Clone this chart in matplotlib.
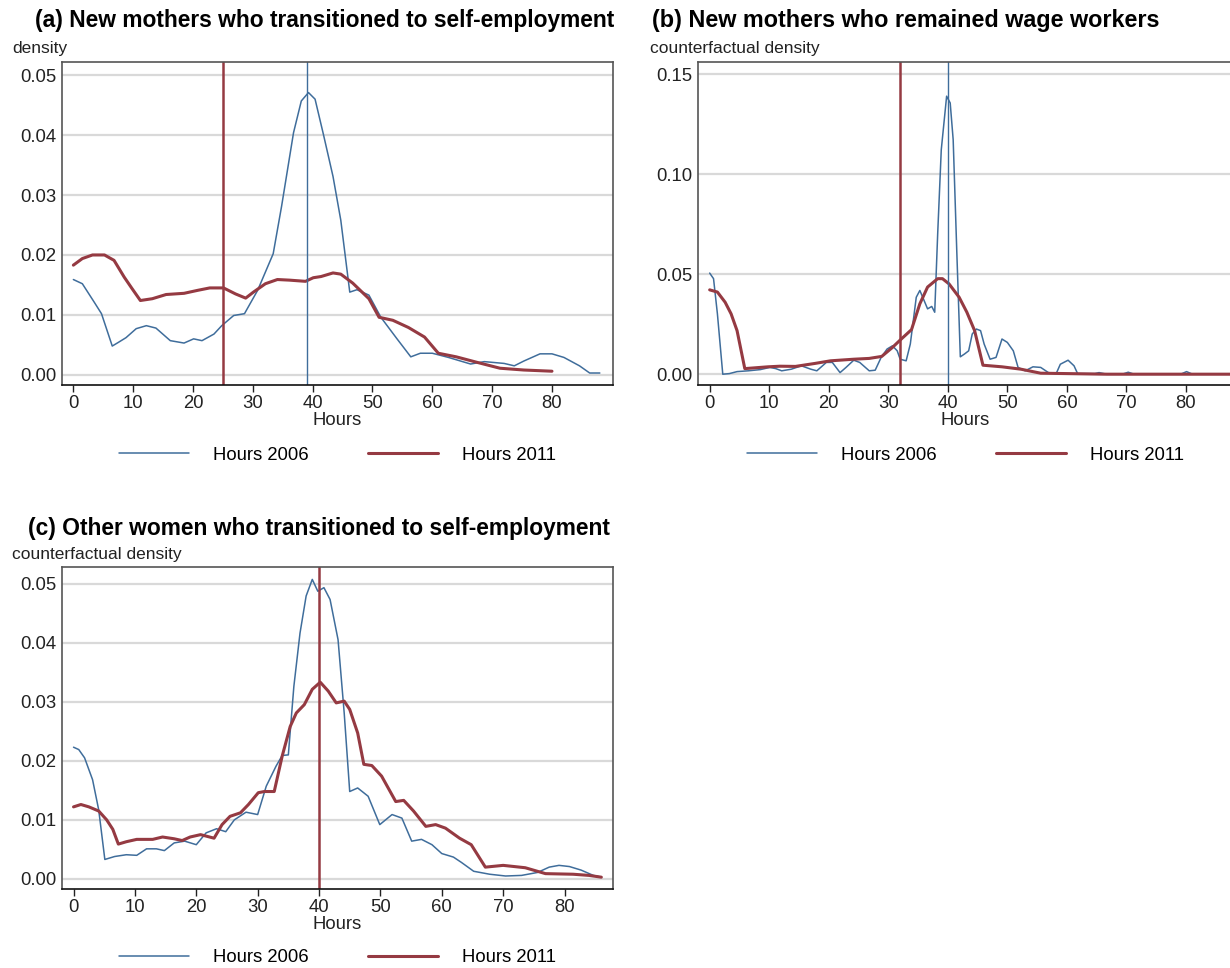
import matplotlib

matplotlib.use("Agg")
import matplotlib.pyplot as plt

plt.rcParams["font.family"] = ["Liberation Sans", "DejaVu Sans"]

BLUE = "#3f6d9b"
RED = "#953a42"
GRID = "#d9d9d9"

# (a) New mothers who transitioned to self-employment
a_hours_2006 = [0, 1.5, 3.5, 4.7, 6.5, 7.5, 8.8, 10.5, 12.2, 13.8, 16.2, 18.5, 20.1, 21.5,
                23.5, 24.8, 26.8, 28.6, 30.8, 33.4, 34.8, 36.8, 38.1, 39.3, 40.4, 41.8,
                43.4, 44.7, 46.2, 47.4, 49.4, 51.4, 54.1, 56.4, 58.0, 60.0, 62.7, 66.4,
                68.7, 72.0, 73.7, 75.3, 78.0, 80.0, 82.0, 84.6, 86.3, 88.0]
a_dens_2006 = [0.0159, 0.0152, 0.0121, 0.0102, 0.0048, 0.0054, 0.0062, 0.0077, 0.0082,
               0.0078, 0.0057, 0.0053, 0.0060, 0.0057, 0.0068, 0.0082, 0.0099, 0.0102,
               0.0141, 0.0202, 0.0281, 0.0404, 0.0457, 0.0471, 0.0460, 0.0401, 0.0331,
               0.0258, 0.0138, 0.0142, 0.0133, 0.0096, 0.0060, 0.0030, 0.0036, 0.0036,
               0.0029, 0.0018, 0.0022, 0.0019, 0.0015, 0.0023, 0.0035, 0.0035, 0.0029,
               0.0015, 0.0003, 0.0003]
a_hours_2011 = [0, 1.5, 3.2, 5.2, 6.8, 8.5, 9.8, 11.2, 13.2, 15.5, 18.5, 20.8, 22.8, 25.1,
                27.1, 28.8, 30.1, 32.1, 34.1, 36.1, 38.8, 40.1, 41.4, 43.4, 44.7, 46.7,
                49.4, 51.1, 53.4, 56.0, 58.7, 61.0, 64.0, 67.4, 71.3, 75.3, 80.0]
a_dens_2011 = [0.0183, 0.0194, 0.0200, 0.0200, 0.0191, 0.0163, 0.0144, 0.0124, 0.0127,
               0.0134, 0.0136, 0.0141, 0.0145, 0.0145, 0.0135, 0.0128, 0.0138, 0.0152,
               0.0159, 0.0158, 0.0156, 0.0162, 0.0164, 0.0170, 0.0168, 0.0153, 0.0127,
               0.0096, 0.0091, 0.0079, 0.0063, 0.0036, 0.0030, 0.0021, 0.0011, 0.0008,
               0.0006]
a_median_2006 = 39
a_median_2011 = 25

# (b) New mothers who remained wage workers
b_hours_2006 = [0, 0.65, 1.3, 2.2, 3.3, 4.6, 6.5, 8.5, 10.1, 11.1, 12.1, 13.7, 15.4, 17.0,
                18.0, 19.6, 20.6, 21.9, 22.9, 24.2, 25.2, 26.8, 27.8, 28.8, 29.8, 30.7,
                31.5, 32.0, 33.0, 33.7, 34.7, 35.3, 35.9, 36.6, 37.3, 37.8, 38.3, 38.9,
                39.8, 40.4, 40.9, 41.5, 42.1, 42.8, 43.5, 44.1, 44.8, 45.5, 46.1, 47.1,
                48.1, 49.1, 50.0, 51.0, 51.8, 53.0, 54.3, 55.6, 56.9, 58.2, 58.9, 60.2,
                61.2, 61.8, 64.7, 65.4, 66.7, 69.3, 70.3, 71.3, 79.1, 80.1, 81.1, 87.5]
b_dens_2006 = [0.0506, 0.0478, 0.0302, 0.0000, 0.0003, 0.0013, 0.0017, 0.0023, 0.0034,
               0.0028, 0.0017, 0.0025, 0.0042, 0.0025, 0.0017, 0.0059, 0.0059, 0.0008,
               0.0034, 0.0070, 0.0059, 0.0017, 0.0020, 0.0084, 0.0126, 0.0142, 0.0117,
               0.0075, 0.0067, 0.0151, 0.0385, 0.0419, 0.0377, 0.0327, 0.0339, 0.0310,
               0.0704, 0.1123, 0.1391, 0.1357, 0.1173, 0.0620, 0.0087, 0.0101, 0.0117,
               0.0201, 0.0226, 0.0218, 0.0151, 0.0075, 0.0084, 0.0176, 0.0159, 0.0117,
               0.0034, 0.0017, 0.0037, 0.0034, 0.0008, 0.0003, 0.0050, 0.0070, 0.0042,
               0.0003, 0.0003, 0.0008, 0.0000, 0.0000, 0.0010, 0.0000, 0.0000, 0.0013,
               0.0000, 0.0000]
b_hours_2011 = [0, 1.3, 2.6, 3.6, 4.6, 5.9, 9.8, 11.8, 14.4, 17.7, 20.3, 24.2, 26.8, 28.9,
                30.7, 32.0, 33.9, 35.3, 36.6, 38.3, 39.1, 40.2, 41.9, 43.2, 44.5, 45.9,
                49.1, 52.3, 55.6, 60.2, 66.7, 87.5]
b_dens_2011 = [0.0422, 0.0411, 0.0360, 0.0302, 0.0218, 0.0028, 0.0037, 0.0040, 0.0039,
               0.0054, 0.0067, 0.0075, 0.0079, 0.0089, 0.0134, 0.0171, 0.0223, 0.0352,
               0.0436, 0.0478, 0.0478, 0.0452, 0.0385, 0.0310, 0.0218, 0.0045, 0.0037,
               0.0025, 0.0005, 0.0003, 0.0000, 0.0000]
b_median_2006 = 40
b_median_2011 = 32

# (c) Other women who transitioned to self-employment
c_hours_2006 = [0, 0.85, 1.8, 3.1, 4.1, 5.1, 6.7, 8.6, 10.3, 11.9, 13.5, 14.8, 16.4, 18.1,
                20.0, 21.6, 23.3, 24.8, 26.2, 28.1, 30.0, 31.4, 33.0, 34.0, 35.0, 35.9,
                36.9, 37.9, 38.9, 39.8, 40.8, 41.8, 43.1, 44.1, 45.0, 46.3, 48.0, 49.9,
                51.9, 53.5, 55.1, 56.7, 58.4, 60.0, 61.9, 63.2, 65.2, 67.8, 70.4, 73.0,
                75.6, 77.5, 79.1, 80.8, 82.7, 84.7, 86.0]
c_dens_2006 = [0.0223, 0.0219, 0.0205, 0.0168, 0.0117, 0.0033, 0.0038, 0.0041, 0.0040,
               0.0051, 0.0051, 0.0048, 0.0061, 0.0064, 0.0058, 0.0078, 0.0085, 0.0080,
               0.0100, 0.0113, 0.0109, 0.0157, 0.0191, 0.0209, 0.0210, 0.0326, 0.0416,
               0.0479, 0.0507, 0.0487, 0.0493, 0.0473, 0.0405, 0.0281, 0.0148, 0.0154,
               0.0140, 0.0092, 0.0109, 0.0103, 0.0064, 0.0067, 0.0058, 0.0043, 0.0037,
               0.0028, 0.0013, 0.0008, 0.0005, 0.0006, 0.0011, 0.0020, 0.0023, 0.0021,
               0.0015, 0.0006, 0.0003]
c_hours_2011 = [0, 1.2, 2.5, 4.1, 5.4, 6.4, 7.3, 8.6, 10.3, 12.9, 14.5, 16.4, 17.7, 19.0,
                20.7, 22.9, 24.2, 25.5, 27.2, 28.5, 30.1, 31.1, 32.7, 34.0, 35.3, 36.3,
                37.6, 38.9, 40.2, 41.5, 42.8, 44.1, 45.0, 46.3, 47.3, 48.6, 50.2, 52.5,
                53.8, 55.4, 57.4, 59.0, 60.6, 62.9, 64.8, 67.1, 70.0, 73.6, 76.9, 81.4,
                84.0, 86.0]
c_dens_2011 = [0.0122, 0.0126, 0.0122, 0.0115, 0.0100, 0.0084, 0.0059, 0.0063, 0.0067,
               0.0067, 0.0071, 0.0068, 0.0065, 0.0071, 0.0075, 0.0069, 0.0092, 0.0106,
               0.0112, 0.0126, 0.0146, 0.0148, 0.0148, 0.0208, 0.0258, 0.0281, 0.0295,
               0.0321, 0.0333, 0.0318, 0.0298, 0.0301, 0.0287, 0.0247, 0.0194, 0.0192,
               0.0174, 0.0131, 0.0133, 0.0115, 0.0089, 0.0092, 0.0086, 0.0069, 0.0058,
               0.0020, 0.0023, 0.0019, 0.0009, 0.0008, 0.0006, 0.0003]
c_median_2011 = 40

x_ticks = [0, 10, 20, 30, 40, 50, 60, 70, 80]
W, H = 1230, 968


def px_axes(fig, left, top, right, bottom):
    return fig.add_axes([left / W, 1 - bottom / H, (right - left) / W, (bottom - top) / H])


def style_panel(ax, xlim, ylim, yticks, ylabels):
    ax.set_xlim(*xlim)
    ax.set_ylim(*ylim)
    ax.set_xticks(x_ticks)
    ax.set_yticks(yticks)
    ax.set_yticklabels(ylabels)
    ax.grid(axis="y", color=GRID, linewidth=1.6, zorder=0)
    ax.set_axisbelow(True)
    ax.tick_params(axis="both", labelsize=13.3, colors="#222222", direction="out")
    ax.tick_params(axis="x", length=5, width=1, pad=2)
    ax.tick_params(axis="y", length=0, pad=4)
    for side in ["top", "right", "left"]:
        ax.spines[side].set_color("#555555")
        ax.spines[side].set_linewidth(1.2)
    ax.spines["bottom"].set_color("#111111")
    ax.spines["bottom"].set_linewidth(1.2)
    ax.set_xlabel("Hours", fontsize=13.3, labelpad=0.5, color="#222222")


def add_legend(ax, y):
    ax.legend(loc="center", bbox_to_anchor=(0.5, y), ncol=2, frameon=False,
              fontsize=13.3, handlelength=3.8, handletextpad=1.3, columnspacing=3.2)


def draw_line(ax, x, y, color, lw, label=None):
    ax.plot(x, y, color=color, lw=lw, label=label,
            solid_joinstyle="round", solid_capstyle="round")


fig = plt.figure(figsize=(W / 100, H / 100), dpi=100)

# panel (a)
ax = px_axes(fig, 62, 62, 613, 385)
draw_line(ax, a_hours_2006, a_dens_2006, BLUE, 1.1, "Hours 2006")
draw_line(ax, a_hours_2011, a_dens_2011, RED, 2.2, "Hours 2011")
ax.axvline(a_median_2011, color=RED, lw=1.8)
ax.axvline(a_median_2006, color=BLUE, lw=1.0)
style_panel(ax, (-1.9, 90.2), (-0.0017, 0.0522), [0, 0.01, 0.02, 0.03, 0.04, 0.05],
            ["0.00", "0.01", "0.02", "0.03", "0.04", "0.05"])
add_legend(ax, -0.218)
fig.text(35 / W, 1 - 21 / H, "(a) New mothers who transitioned to self-employment",
         fontsize=16.4, fontweight="bold", va="center", ha="left")
fig.text(12 / W, 1 - 48 / H, "density", fontsize=12.5, va="center", ha="left", color="#222222")

# panel (b)
ax = px_axes(fig, 698, 62, 1233, 385)
draw_line(ax, b_hours_2006, b_dens_2006, BLUE, 1.1, "Hours 2006")
draw_line(ax, b_hours_2011, b_dens_2011, RED, 2.2, "Hours 2011")
ax.axvline(b_median_2011, color=RED, lw=1.8)
ax.axvline(b_median_2006, color=BLUE, lw=1.0)
style_panel(ax, (-1.96, 87.9), (-0.0054, 0.1562), [0, 0.05, 0.10, 0.15],
            ["0.00", "0.05", "0.10", "0.15"])
add_legend(ax, -0.218)
fig.text(652 / W, 1 - 21 / H, "(b) New mothers who remained wage workers",
         fontsize=16.8, fontweight="bold", va="center", ha="left")
fig.text(650 / W, 1 - 48 / H, "counterfactual density", fontsize=12.5, va="center",
         ha="left", color="#222222")

# panel (c)
ax = px_axes(fig, 62, 567, 613, 889)
draw_line(ax, c_hours_2006, c_dens_2006, BLUE, 1.1, "Hours 2006")
draw_line(ax, c_hours_2011, c_dens_2011, RED, 2.2, "Hours 2011")
ax.axvline(c_median_2011, color=RED, lw=1.8)
style_panel(ax, (-1.88, 87.9), (-0.0017, 0.0528), [0, 0.01, 0.02, 0.03, 0.04, 0.05],
            ["0.00", "0.01", "0.02", "0.03", "0.04", "0.05"])
add_legend(ax, -0.214)
fig.text(28 / W, 1 - 528 / H, "(c) Other women who transitioned to self-employment",
         fontsize=16.4, fontweight="bold", va="center", ha="left")
fig.text(12 / W, 1 - 555 / H, "counterfactual density", fontsize=12.5, va="center",
         ha="left", color="#222222")

fig.savefig("out.png", dpi=100)
